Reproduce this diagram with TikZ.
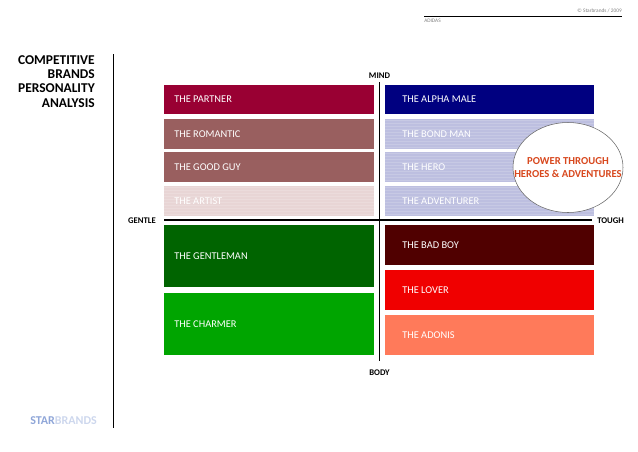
\documentclass[tikz,border=0pt]{standalone}
\usepackage{fontspec}
\setmainfont{Carlito}
\usetikzlibrary{shapes.geometric}
\definecolor{partnercol}{HTML}{990033}
\definecolor{romancecol}{HTML}{995F5F}
\definecolor{artistcol}{HTML}{E8D5D5}
\definecolor{alphacol}{HTML}{000080}
\definecolor{bondcol}{HTML}{BDBFE0}
\definecolor{gentcol}{HTML}{006400}
\definecolor{charmcol}{HTML}{00A500}
\definecolor{badcol}{HTML}{500000}
\definecolor{lovercol}{HTML}{F00000}
\definecolor{adoniscol}{HTML}{FF7A5A}
\definecolor{powercol}{HTML}{D8481E}
\definecolor{logocol}{HTML}{8FA6D8}
\tikzset{
  band/.style={anchor=north west,minimum width=#1*0.75pt,inner sep=0pt,outer sep=0pt},
  band/.default=210,
  axislabel/.style={font=\fontsize{6.5}{7}\selectfont\bfseries,inner sep=0pt},
  stripes/.style={path picture={
      \foreach \k in {0,...,9}
        \draw[white,opacity=0.16,line width=0.7pt]
          ([yshift=-\k*2.25pt-1pt]path picture bounding box.north west)
          -- ([yshift=-\k*2.25pt-1pt]path picture bounding box.north east);}}
}
% a box with its caption set in from the left edge
\newcommand{\bandinset}{7.5pt}
\newcommand{\bandbox}[6]{%
  \node[band,fill=#4,minimum height=#5*0.75pt,#6] (#1) at (#2) {};
  \node[anchor=west,inner sep=0pt,text=white,font=\fontsize{7.8}{9}\selectfont] (#1text) at ([xshift=\bandinset]#1.west) {#3};}
\begin{document}
\begin{tikzpicture}[x=0.75pt,y=-0.75pt]
  \useasboundingbox (0,0) rectangle (638,451);
  % header
  \coordinate (headl) at (424,16);
  \coordinate (headr) at (622,16);
  \draw[line width=0.5pt] (headl)--(headr);
  \node[anchor=south east,inner sep=0pt,gray,font=\fontsize{4}{5}\selectfont] (copyright) at (622,13) {© Starbrands / 2009};
  \node[anchor=north west,inner sep=0pt,gray,font=\fontsize{4}{5}\selectfont] (brand) at (424,19) {ADIDAS};
  % title and side rule
  \node[anchor=north east,align=right,inner sep=0pt,font=\fontsize{10.1}{10.8}\selectfont\bfseries] (title) at (95,55) {COMPETITIVE\\BRANDS\\PERSONALITY\\ANALYSIS};
  \coordinate (rulet) at (113,54);
  \coordinate (ruleb) at (113,428);
  \draw[line width=0.7pt] (rulet)--(ruleb);
  \node[anchor=west,inner sep=0pt,font=\fontsize{9}{10}\selectfont\bfseries] (logo) at (30,421) {\textcolor{logocol}{STAR}\textcolor{logocol!45}{BRANDS}};
  % left column
  \bandbox{partner}{164,85}{THE PARTNER}{partnercol}{29}{band}
  \bandbox{romantic}{164,119}{THE ROMANTIC}{romancecol}{29.5}{band}
  \bandbox{goodguy}{164,152}{THE GOOD GUY}{romancecol}{30}{band}
  \bandbox{artist}{164,186}{THE ARTIST}{artistcol}{30}{band,stripes}
  \bandbox{gentleman}{164,225}{THE GENTLEMAN}{gentcol}{62}{band}
  \bandbox{charmer}{164,293}{THE CHARMER}{charmcol}{62}{band}
  % right column
  \renewcommand{\bandinset}{12.75pt}
  \bandbox{alpha}{385,85}{THE ALPHA MALE}{alphacol}{29}{band=209}
  \bandbox{bond}{385,119}{THE BOND MAN}{bondcol}{29.5}{band=209,stripes}
  \bandbox{hero}{385,152}{THE HERO}{bondcol}{30}{band=209,stripes}
  \bandbox{adventurer}{385,186}{THE ADVENTURER}{bondcol}{30}{band=209,stripes}
  \bandbox{badboy}{385,225}{THE BAD BOY}{badcol}{40}{band=209}
  \bandbox{lover}{385,270}{THE LOVER}{lovercol}{40}{band=209}
  \bandbox{adonis}{385,315}{THE ADONIS}{adoniscol}{40}{band=209}
  % axes
  \node[axislabel] (mind) at (379.5,76) {MIND};
  \node[axislabel] (body) at (379.5,373) {BODY};
  \node[axislabel,anchor=east] (gentle) at (156,221) {GENTLE};
  \node[axislabel,anchor=west] (tough) at (597,221) {TOUGH};
  \coordinate (axt) at (379.5,82);
  \coordinate (axb) at (379.5,361);
  \coordinate (axl) at (164,220);
  \coordinate (axr) at (592,220);
  \draw[line width=1.3pt] (axt)--(axb);
  \draw[line width=1.3pt] (axl)--(axr);
  % callout
  \node[ellipse,draw=black!60,fill=white,line width=0.4pt,minimum width=110*0.75pt,minimum height=90*0.75pt,inner sep=0pt] (callout) at (568,167.5) {};
  \node[align=center,inner sep=0pt,text=powercol,font=\fontsize{8}{9.75}\selectfont\bfseries] (power) at (callout) {POWER THROUGH\\HEROES \& ADVENTURES};
\end{tikzpicture}
\end{document}
